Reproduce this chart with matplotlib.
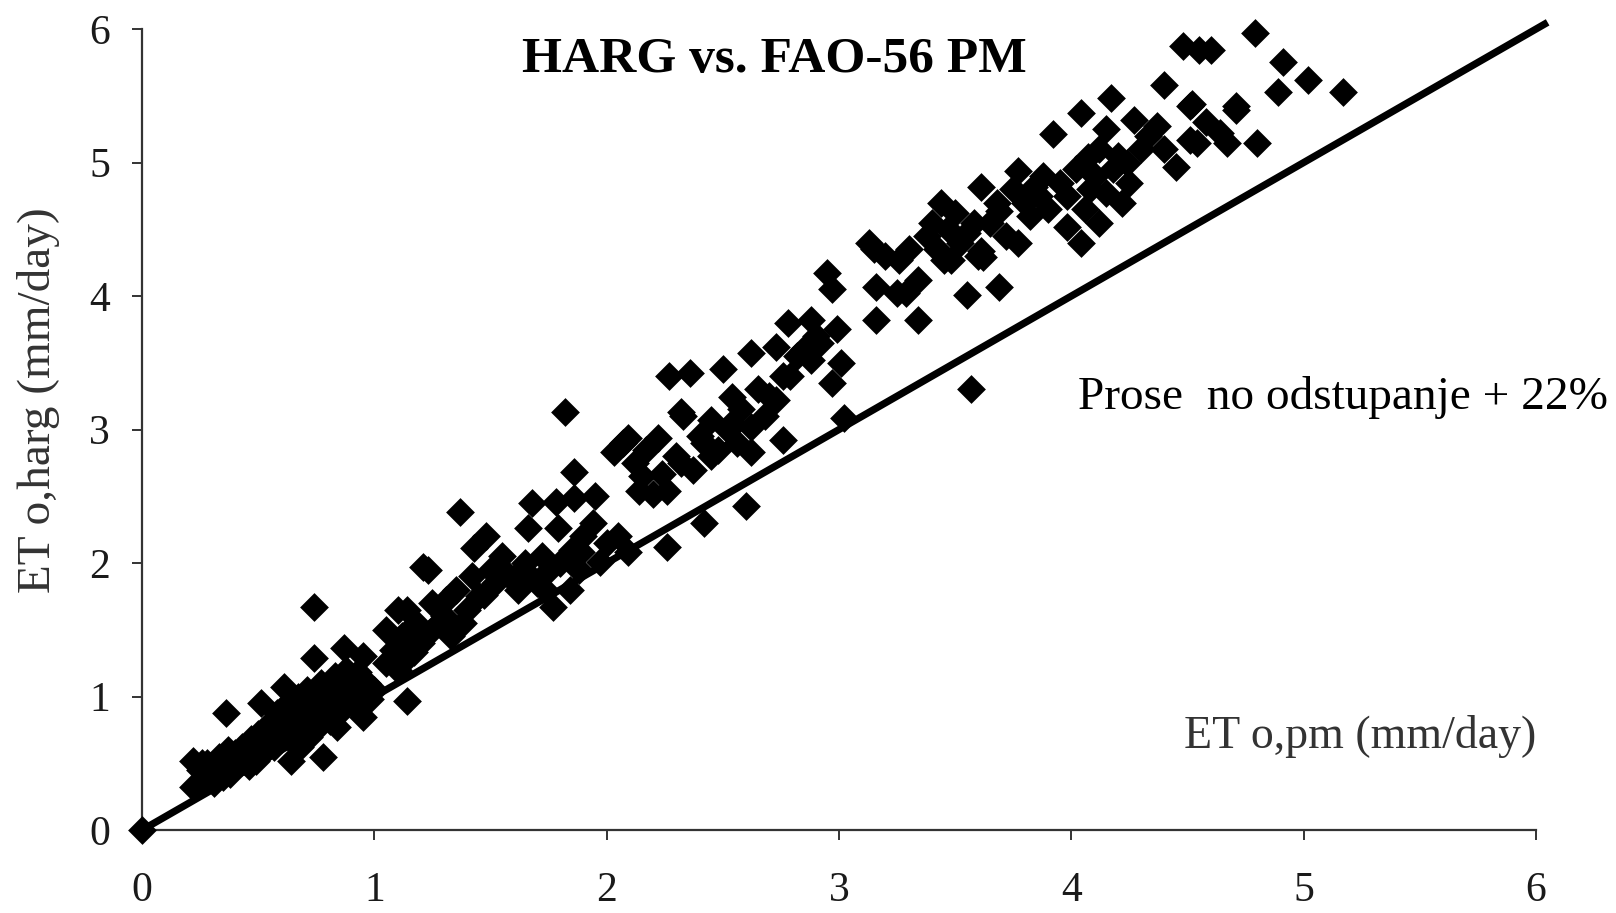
import matplotlib
matplotlib.use("Agg")
import matplotlib.pyplot as plt

plt.rcParams['font.family'] = ['Liberation Serif', 'DejaVu Serif']

# FAO-56 Penman-Monteith reference ET (mm/day)
eto_pm = [
    0.00,
    0.22, 0.22, 0.25, 0.26, 0.27, 0.28, 0.29, 0.30, 0.31, 0.32, 0.33, 0.34, 0.35, 0.36, 0.36,
    0.37, 0.38, 0.39, 0.40, 0.41, 0.42, 0.43, 0.44, 0.45, 0.46, 0.47, 0.48, 0.49, 0.50, 0.51,
    0.52, 0.53, 0.54, 0.55, 0.56, 0.57, 0.57, 0.58, 0.59, 0.60, 0.60, 0.61, 0.62, 0.63, 0.63,
    0.64, 0.65, 0.66, 0.66, 0.67, 0.68, 0.68, 0.69, 0.70, 0.70, 0.71, 0.72, 0.72, 0.73, 0.74,
    0.74, 0.75, 0.76, 0.76, 0.77, 0.78, 0.78, 0.79, 0.80, 0.81, 0.82, 0.83, 0.84, 0.85, 0.86,
    0.87, 0.88, 0.88, 0.90, 0.91, 0.92, 0.93, 0.95, 0.95, 0.97, 0.98, 1.00,
    1.05, 1.05, 1.08, 1.10, 1.10, 1.12, 1.14, 1.14, 1.15, 1.17, 1.18, 1.20, 1.21, 1.23, 1.24,
    1.25, 1.28, 1.30, 1.31, 1.33, 1.35, 1.37, 1.38, 1.40, 1.42, 1.43, 1.45, 1.47, 1.48, 1.50,
    1.52, 1.55, 1.58, 1.60, 1.62, 1.65, 1.66, 1.67, 1.68, 1.70, 1.72, 1.74, 1.75, 1.77, 1.78,
    1.79, 1.80, 1.82, 1.84, 1.85, 1.86, 1.86, 1.88, 1.89, 1.90, 1.94, 1.95, 1.97, 2.00,
    2.03, 2.05, 2.07, 2.09, 2.09, 2.12, 2.14, 2.15, 2.17, 2.20, 2.22, 2.24, 2.26, 2.26, 2.27,
    2.30, 2.32, 2.32, 2.33, 2.36, 2.37, 2.40, 2.42, 2.42, 2.45, 2.45, 2.48, 2.50, 2.52, 2.54,
    2.54, 2.56, 2.58, 2.60, 2.62, 2.62, 2.62, 2.65, 2.68, 2.70, 2.73, 2.73, 2.76, 2.76, 2.78,
    2.79, 2.82, 2.85, 2.88, 2.88, 2.90, 2.92, 2.95, 2.97, 2.97, 2.99, 3.01, 3.02,
    3.13, 3.15, 3.16, 3.16, 3.20, 3.25, 3.26, 3.29, 3.30, 3.34, 3.34, 3.38, 3.40, 3.42, 3.44,
    3.45, 3.47, 3.48, 3.50, 3.52, 3.55, 3.55, 3.57, 3.58, 3.60, 3.61, 3.61, 3.62, 3.65, 3.68,
    3.69, 3.69, 3.72, 3.75, 3.77, 3.77, 3.80, 3.82, 3.84, 3.86, 3.88, 3.90, 3.92, 3.95, 3.98,
    3.98,
    4.02, 4.04, 4.04, 4.06, 4.07, 4.08, 4.10, 4.12, 4.12, 4.15, 4.15, 4.17, 4.18, 4.20, 4.22,
    4.24, 4.25, 4.27, 4.30, 4.33, 4.37, 4.40, 4.40, 4.45, 4.48, 4.51, 4.51, 4.52, 4.54, 4.55,
    4.58, 4.60, 4.64, 4.67, 4.71, 4.71, 4.79, 4.80, 4.89, 4.91, 5.02, 5.17,
]

# Hargreaves reference ET (mm/day)
eto_harg = [
    0.00,
    0.52, 0.32, 0.45, 0.50, 0.38, 0.50, 0.40, 0.42, 0.35, 0.48, 0.55, 0.45, 0.40, 0.88, 0.50,
    0.60, 0.42, 0.48, 0.58, 0.50, 0.55, 0.62, 0.52, 0.62, 0.48, 0.68, 0.58, 0.52, 0.72, 0.95,
    0.58, 0.65, 0.72, 0.80, 0.70, 0.62, 0.82, 0.88, 0.75, 0.68, 0.78, 1.07, 0.82, 0.95, 0.70,
    0.52, 0.75, 0.88, 0.80, 1.00, 0.62, 0.92, 0.80, 0.92, 0.75, 1.05, 0.70, 0.98, 0.85, 1.29,
    1.67, 0.95, 0.78, 0.90, 1.10, 0.55, 1.02, 0.88, 1.00, 0.82, 0.92, 1.15, 0.77, 1.05, 0.90,
    1.36, 0.95, 1.20, 1.12, 0.95, 1.00, 1.18, 1.30, 0.85, 1.10, 0.98, 1.05,
    1.50, 1.25, 1.35, 1.65, 1.20, 1.45, 0.97, 1.65, 1.30, 1.33, 1.55, 1.40, 1.97, 1.95, 1.48,
    1.70, 1.55, 1.60, 1.72, 1.45, 1.80, 2.38, 1.55, 1.65, 1.90, 2.11, 1.75, 1.76, 2.20, 1.95,
    1.85, 2.05, 1.90, 1.89, 1.80, 2.00, 2.26, 1.90, 2.45, 1.85, 2.05, 1.79, 1.95, 1.67, 2.46,
    2.26, 2.00, 3.13, 1.80, 2.10, 2.49, 2.68, 1.95, 2.08, 2.20, 2.30, 2.50, 2.01, 2.15,
    2.83, 2.20, 2.90, 2.94, 2.08, 2.75, 2.54, 2.65, 2.85, 2.52, 2.94, 2.67, 2.12, 2.54, 3.40,
    2.80, 2.75, 3.13, 3.10, 3.42, 2.70, 2.95, 2.30, 2.90, 3.07, 2.80, 2.85, 3.45, 3.00, 3.24,
    3.05, 2.90, 3.15, 2.43, 3.02, 3.57, 2.83, 3.30, 3.10, 3.25, 3.62, 3.22, 2.92, 3.40, 3.80,
    3.40, 3.55, 3.60, 3.82, 3.52, 3.70, 3.65, 4.17, 4.05, 3.35, 3.75, 3.50, 3.09,
    4.40, 4.35, 4.07, 3.82, 4.30, 4.02, 4.27, 4.02, 4.35, 4.12, 3.82, 4.45, 4.55, 4.35, 4.70,
    4.27, 4.50, 4.27, 4.62, 4.40, 4.47, 4.01, 3.30, 4.55, 4.30, 4.82, 4.34, 4.29, 4.55, 4.70,
    4.64, 4.07, 4.45, 4.80, 4.94, 4.40, 4.70, 4.60, 4.82, 4.75, 4.90, 4.65, 5.21, 4.85, 4.52,
    4.75,
    4.95, 5.37, 4.40, 4.65, 5.04, 4.80, 4.90, 4.55, 5.10, 4.77, 5.25, 5.48, 4.95, 5.05, 4.70,
    5.00, 4.85, 5.32, 5.10, 5.20, 5.27, 5.58, 5.10, 4.97, 5.87, 5.42, 5.17, 5.44, 5.15, 5.84,
    5.30, 5.84, 5.22, 5.15, 5.42, 5.39, 5.97, 5.15, 5.53, 5.75, 5.62, 5.53,
]

# 1:1 reference line
ref_line = [0.0, 6.05]

ticks = [0, 1, 2, 3, 4, 5, 6]

fig = plt.figure(figsize=(16.16, 9.13), dpi=100)
ax = fig.add_axes([0.0879, 0.0909, 0.8626, 0.8773])

ax.plot(ref_line, ref_line, color='black', linewidth=5.2, solid_capstyle='butt',
        clip_on=False, zorder=2)
ax.scatter(eto_pm, eto_harg, marker='D', s=215, color='black', linewidths=0,
           clip_on=False, zorder=3)

ax.set_xlim(0, 6)
ax.set_ylim(0, 6)
ax.set_xticks(ticks)
ax.set_yticks(ticks)

for side in ('top', 'right'):
    ax.spines[side].set_visible(False)
for side in ('left', 'bottom'):
    ax.spines[side].set_color('#333333')
    ax.spines[side].set_linewidth(1.6)

ax.tick_params(axis='both', direction='out', length=7, width=1.4, color='#333333',
               labelsize=30, labelcolor='#1a1a1a')
ax.tick_params(axis='x', pad=23)
ax.tick_params(axis='y', pad=16)

ax.set_ylabel('ET o,harg (mm/day)', fontsize=34, color='#333333')
ax.yaxis.set_label_coords(-0.059, 0.537)
ax.text(6.0, 0.70, 'ET o,pm (mm/day)', fontsize=33, color='#333333',
        ha='right', va='center')
ax.text(2.72, 5.77, 'HARG vs. FAO-56 PM', fontsize=37, fontweight='bold',
        ha='center', va='center')
ax.text(4.03, 3.24, 'Prose  no odstupanje + 22%', fontsize=34,
        ha='left', va='center')

fig.savefig('out.png', dpi=100)
